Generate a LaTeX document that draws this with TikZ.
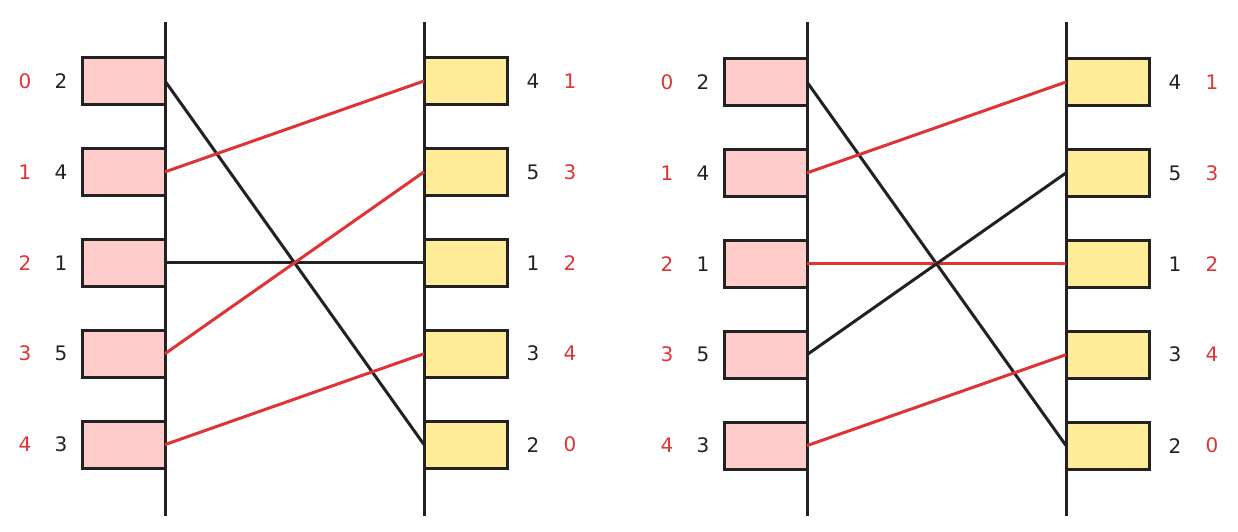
\documentclass[tikz,border=0pt]{standalone}
\usepackage{fontspec}
\setmainfont{DejaVu Sans}
\definecolor{lred}{RGB}{224,52,52}
\definecolor{lpink}{RGB}{255,204,204}
\definecolor{lyellow}{RGB}{255,236,153}
\definecolor{ldark}{RGB}{34,34,34}
\begin{document}
\begin{tikzpicture}[x=1pt,y=-1pt,
  box/.style={draw=ldark,line width=3pt,minimum width=83pt,minimum height=47pt,inner sep=0pt,outer sep=0pt},
  pinkbox/.style={box,fill=lpink},
  yellowbox/.style={box,fill=lyellow},
  axis/.style={draw=ldark,line width=3pt},
  blk/.style={draw=ldark,line width=3pt},
  redl/.style={draw=lred,line width=3pt},
  num/.style={font=\fontsize{20}{24}\selectfont,text=ldark,inner sep=0pt},
  idx/.style={num,text=lred}]
\useasboundingbox (0,0) rectangle (1238,532);
% diagram A (offset 0) and B (offset 642)
\foreach \d/\o/\dy in {A/0/0,B/642/1}{
  \coordinate (\d-lt) at (165+\o,22);
  \coordinate (\d-lb) at (165+\o,516);
  \coordinate (\d-rt) at (424+\o,22);
  \coordinate (\d-rb) at (424+\o,516);
  \draw[axis] (\d-lt) -- (\d-lb);
  \draw[axis] (\d-rt) -- (\d-rb);
  \foreach \i/\lv/\rv/\ri in {0/2/4/1,1/4/5/3,2/1/1/2,3/5/3/4,4/3/2/0}{
    \node[pinkbox] (\d-L\i) at (123.5+\o,81+\dy+90.9*\i) {};
    \node[yellowbox] (\d-R\i) at (465.5+\o,81+\dy+90.9*\i) {};
    \node[idx] (\d-li\i) at (25+\o,81+\dy+90.9*\i) {\i};
    \node[num] (\d-lv\i) at (61+\o,81+\dy+90.9*\i) {\lv};
    \node[num] (\d-rv\i) at (533+\o,81+\dy+90.9*\i) {\rv};
    \node[idx] (\d-ri\i) at (570+\o,81+\dy+90.9*\i) {\ri};
  }
}
% connectors diagram A
\draw[blk]  (A-L0.east) -- (A-R4.west);
\draw[redl] (A-L1.east) -- (A-R0.west);
\draw[blk]  (A-L2.east) -- (A-R2.west);
\draw[redl] (A-L3.east) -- (A-R1.west);
\draw[redl] (A-L4.east) -- (A-R3.west);
% connectors diagram B
\draw[blk]  (B-L0.east) -- (B-R4.west);
\draw[redl] (B-L1.east) -- (B-R0.west);
\draw[redl] (B-L2.east) -- (B-R2.west);
\draw[blk]  (B-L3.east) -- (B-R1.west);
\draw[redl] (B-L4.east) -- (B-R3.west);
\end{tikzpicture}
\end{document}
